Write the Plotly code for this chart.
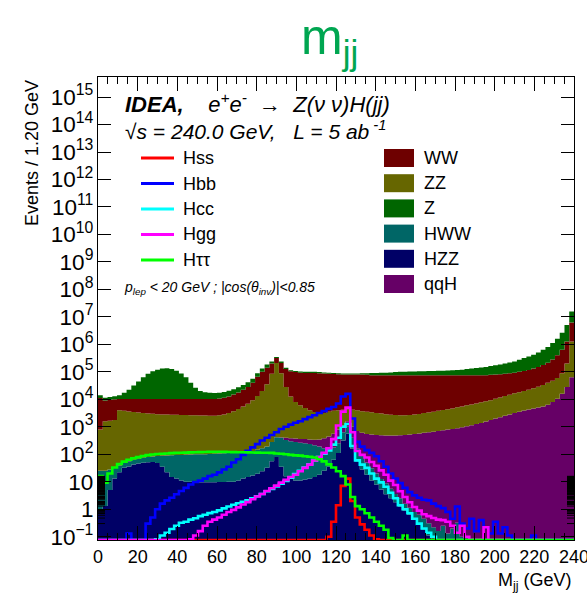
import numpy as np
import plotly.graph_objects as go

# ---------------------------------------------------------------------------
# Binning: 100 bins of 2.4 GeV from 0 to 240 GeV
# ---------------------------------------------------------------------------
BIN_W = 2.4
edges = np.round(np.arange(101) * BIN_W, 1)

# Stacked backgrounds / signals (events per bin), listed bottom -> top of stack
hzz = [1.0, 1.3, 5.0, 13, 22, 32, 36, 42, 46, 49,
       51, 52, 48, 35, 22, 15, 13, 11, 10, 10,
       9.8, 9.5, 9.5, 9.5, 9.5, 9.8, 9.8, 10, 10, 11,
       13, 15, 17, 19.5, 24, 32, 56, 79, 35, 16,
       13, 11, 11, 12, 13, 15, 18, 25, 35, 63,
       112, 316, 562, 158, 56, 28, 18, 11, 7.9, 5.2,
       3.5, 2.5, 1.8, 1.26, 0.89, 0.63, 0.45, 0.28, 0.18, 0.11,
       0, 0, 0, 0, 0, 0, 0, 0, 0, 0,
       0, 0, 0, 0, 0, 0, 0, 0, 0, 0,
       0, 0, 0, 0, 0, 0, 0, 0, 0, 0]

hww = [24, 24, 23, 21, 17, 16, 20, 21, 23, 25,
       28, 31, 39, 54, 69, 78, 81, 84, 87, 88,
       90, 90, 90, 93, 95, 97, 100, 102, 105, 106,
       108, 108, 115, 128, 142, 159, 226, 338, 363, 315,
       283, 271, 252, 240, 221, 199, 173, 141, 123, 115,
       139, 315, 438, 240, 102, 61, 32, 20, 12, 7.3,
       5.4, 3.1, 1.8, 1.25, 0.69, 0.49, 0.35, 0.35, 0.27, 0.2,
       0.22, 0.16, 0.25, 0.13, 0.2, 0.32, 0.1, 0, 0, 0,
       0, 0, 0, 0, 0, 0, 0, 0, 0, 0,
       0, 0, 0, 0, 0, 0, 0, 0, 0, 0]

qqh = [0, 0, 0, 0, 0, 0, 0, 0, 0, 0,
       0, 0, 0, 0, 0, 0, 0, 0, 0, 0,
       0, 0, 0, 0, 0, 0, 0, 0, 0, 0,
       0, 0, 0, 0, 0, 0, 0, 0, 19, 67,
       85, 90, 100, 104, 112, 125, 156, 214, 288, 385,
       543, 491, 585, 602, 549, 514, 499, 493, 481, 477,
       470, 473, 475, 487, 500, 524, 549, 575, 602, 631,
       660, 708, 741, 794, 832, 891, 955, 1047, 1148, 1259,
       1380, 1549, 1778, 1995, 2239, 2512, 2818, 3162, 3548, 3890,
       4266, 4677, 5012, 5495, 6310, 7943, 10470, 15850, 28180, 63100]

zz = [770, 1560, 1630, 1740, 3940, 3750, 3570, 3400, 3240, 3090,
      2940, 2870, 2800, 2730, 2730, 2660, 2660, 2600, 2590, 2530,
      2530, 2470, 2470, 2410, 2410, 2520, 2710, 3050, 3600, 4350,
      5370, 6800, 9200, 13030, 19800, 35290, 84830, 208500, 88710, 27780,
      12210, 7570, 5660, 4430, 3630, 3130, 2815, 2782, 3100, 3240,
      3190, 3050, 2680, 3170, 3270, 3110, 3000, 2863, 2661, 2530,
      2405, 2275, 2213, 2140, 2129, 2167, 2268, 2376, 2559, 2680,
      2887, 3094, 3333, 3571, 3845, 4238, 4540, 4979, 5309, 5820,
      6382, 6962, 7555, 8475, 9511, 10670, 11970, 13440, 14650, 16060,
      18120, 20440, 23830, 27620, 33500, 39920, 49790, 73280, 171300, 1196000]

ww = [10400, 7500, 7900, 8200, 6250, 6430, 6600, 6760, 6920, 7070,
      7210, 7280, 7350, 7410, 7410, 7480, 7480, 7540, 7540, 7600,
      7600, 7660, 7660, 7720, 7720, 8090, 8660, 9430, 11100, 13310,
      16900, 21260, 30480, 52890, 80050, 105800, 114400, 110000, 119800, 97720,
      92110, 89780, 87300, 86410, 87220, 87730, 85970, 83940, 81560, 79380,
      77300, 75260, 75160, 75260, 75450, 75720, 74070, 72470, 72700, 72840,
      72980, 73110, 73170, 73230, 73230, 73170, 73040, 72910, 72700, 72550,
      72310, 72060, 71790, 71500, 71180, 70730, 70370, 69830, 69400, 68780,
      68100, 67350, 68290, 68960, 69530, 71930, 74340, 76730, 81800, 87250,
      95110, 106700, 122600, 144700, 174000, 233900, 337800, 541900, 1059500, 5051000]

zjets = [2900, 2400, 2500, 2900, 3900, 7150, 12200, 21400, 34400, 52900,
         74900, 94500, 110000, 121600, 124700, 115700, 99400, 76900, 52900, 29600,
         16100, 9720, 7970, 7150, 6750, 6660, 7140, 7830, 8650, 9760,
         10720, 13510, 16420, 23060, 31800, 44900, 40400, 27800, 31000, 15400,
         10100, 9480, 8970, 8800, 8800, 8800, 8590, 8400, 8220, 8020,
         7850, 7670, 7670, 7670, 7670, 9700, 11510, 15340, 15340, 17470,
         17470, 19640, 21860, 24140, 24140, 26440, 26440, 28840, 28840, 31340,
         31340, 33740, 33740, 36340, 38940, 41640, 44340, 50040, 55940, 62140,
         68640, 75540, 84580, 94370, 104900, 114400, 129700, 146600, 175400, 209000,
         245600, 285100, 349800, 453200, 580500, 840200, 1187000, 1999000, 3753000, 9540000]

# Higgs signal channels drawn as unstacked histograms
hss = [0] * 48 + [0.1, 0.35, 1.4, 7.1, 13, 2.0, 0.5, 0.28, 0.18, 0.11, 0.08] + [0] * 41

hbb = [0, 0, 0, 0, 0, 0, 0.13, 0, 0, 0,
       0.3, 0.5, 1.0, 1.6, 2.1, 2.6, 3.5, 4.6, 6.0, 7.9,
       9.8, 11, 13, 16, 18, 22, 28, 35, 50, 66,
       95, 135, 178, 234, 316, 398, 501, 631, 832, 1000,
       1200, 1410, 1585, 1905, 2240, 2630, 3160, 3720, 4470, 5250,
       7080, 12600, 15800, 2000, 282, 190, 141, 112, 85, 56,
       35, 20, 13, 8.9, 6.0, 4.2, 3.2, 2.6, 2.2, 2.1,
       1.6, 1.3, 1.1, 0.8, 0.45, 1.25, 0.3, 0.2, 0.45, 0.16,
       0.4, 0.22, 0.13, 0.35, 0.13, 0.22, 0.11, 0, 0, 0,
       0, 0.11, 0, 0, 0, 0, 0, 0, 0, 0]

hcc = [0, 0, 0, 0, 0, 0, 0, 0, 0, 0,
       0, 0, 0.08, 0.11, 0.14, 0.19, 0.25, 0.32, 0.35, 0.42,
       0.47, 0.56, 0.63, 0.72, 0.79, 0.91, 1.07, 1.26, 1.45, 1.66,
       1.86, 2.1, 2.5, 2.95, 3.6, 4.5, 5.5, 6.8, 8.5, 10.7,
       14, 19, 25, 33, 43, 59, 79, 105, 138, 224,
       398, 1000, 1260, 200, 60, 42, 32, 20, 13, 9.5,
       6.6, 4.0, 2.5, 1.4, 1.0, 0.71, 0.45, 0.3, 0.2, 0.14,
       0.1, 0, 0, 0, 0, 0, 0, 0, 0, 0,
       0, 0, 0, 0, 0, 0, 0, 0, 0, 0,
       0, 0, 0, 0, 0, 0, 0, 0, 0, 0]

hgg = [0, 0, 0, 0, 0, 0, 0, 0, 0, 0,
       0, 0, 0, 0, 0, 0, 0, 0, 0, 0.08,
       0.11, 0.16, 0.25, 0.35, 0.42, 0.5, 0.63, 0.79, 0.95, 1.17,
       1.48, 1.82, 2.3, 2.9, 3.6, 4.6, 5.8, 7.2, 9.3, 11.7,
       14.8, 18, 24, 32, 42, 59, 79, 112, 166, 355,
       1120, 3550, 5000, 631, 132, 95, 76, 52, 38, 26,
       18, 11, 7.6, 4.5, 2.8, 1.8, 1.2, 0.89, 0.66, 0.56,
       0.48, 0.42, 0.4, 0.35, 0.25, 0.14, 0.25, 0.1, 0, 0,
       0, 0.22, 0, 0, 0, 0, 0, 0, 0, 0,
       0, 0, 0, 0, 0, 0, 0, 0, 0, 0]

htautau = [16, 9.3, 20, 33, 44, 54, 63, 72, 79, 87,
           93, 98, 102, 105, 107, 110, 112, 113, 115, 117,
           118, 120, 121, 122, 122, 123, 122, 121, 120, 119,
           118, 117, 116, 115, 114, 113, 112, 107, 105, 100,
           95, 91, 89, 85, 81, 76, 66, 55, 43, 33,
           24, 16, 7.9, 2.8, 1.3, 1.0, 0.71, 0.5, 0.35, 0.25,
           0.18, 0.09, 0, 0, 0.11, 0, 0, 0, 0, 0,
           0, 0, 0, 0, 0, 0, 0, 0, 0, 0,
           0, 0, 0, 0, 0, 0, 0, 0, 0, 0,
           0, 0, 0, 0, 0, 0, 0, 0, 0, 0]

stack = [("HZZ", hzz, "#000066"),
         ("HWW", hww, "#006666"),
         ("qqH", qqh, "#660066"),
         ("ZZ", zz, "#666600"),
         ("WW", ww, "#6e0000"),
         ("Z", zjets, "#006600")]

signals = [("Hss", hss, "#ff0000"),
           ("Hbb", hbb, "#0000ff"),
           ("Hcc", hcc, "#00ffff"),
           ("Hgg", hgg, "#ff00ff"),
           ("H\u03c4\u03c4", htautau, "#00ff00")]

Y_RANGE = [-1.12, 15.73]
FILL_FLOOR = 1e-3                 # below the visible range, used as fill base
LINE_FLOOR = 10 ** Y_RANGE[0]     # empty bins drawn on the lower frame edge

FONT = "Liberation Sans, Arial, Helvetica, sans-serif"

fig = go.Figure()


def step_y(vals):
    v = list(vals)
    return v + [v[-1]]


# fill base
fig.add_trace(go.Scatter(x=edges, y=[FILL_FLOOR] * len(edges), mode="lines",
                         line=dict(width=0, shape="hv"), hoverinfo="skip"))

cum = np.zeros(len(edges) - 1)
for name, vals, col in stack:
    cum = cum + np.asarray(vals, dtype=float)
    y = np.maximum(cum, FILL_FLOOR)
    fig.add_trace(go.Scatter(x=edges, y=step_y(y), mode="lines", name=name,
                             line=dict(width=0, shape="hv", color=col),
                             fill="tonexty", fillcolor=col))

for name, vals, col in signals:
    v = np.asarray(vals, dtype=float)
    y = np.where(v > 0, v, LINE_FLOOR)
    fig.add_trace(go.Scatter(x=edges, y=step_y(y), mode="lines", name=name,
                             line=dict(width=2.6, shape="hv", color=col)))

# ---------------------------------------------------------------------------
# Layout
# ---------------------------------------------------------------------------
W, H = 587, 601
PL, PR, PT, PB = 98, 574, 77, 540


def fx(px):
    return (px - PL) / (PR - PL)


def fy(py):
    return (PB - py) / (PB - PT)


fig.update_layout(
    width=W, height=H,
    margin=dict(l=PL, r=W - PR, t=PT, b=H - PB, pad=0, autoexpand=False),
    paper_bgcolor="white", plot_bgcolor="white",
    showlegend=False,
    font=dict(family=FONT, color="black"),
    xaxis=dict(range=[0, 240], tickmode="linear", tick0=0, dtick=20, tickangle=0,
               automargin=False,
               ticks="inside", ticklen=14, tickwidth=1, tickcolor="black",
               showline=True, linecolor="black", linewidth=1, mirror="allticks",
               showgrid=False, zeroline=False, ticklabeloverflow="allow",
               tickfont=dict(size=18, family=FONT),
               minor=dict(dtick=5, tick0=0, ticks="inside", ticklen=7, tickcolor="black",
                          showgrid=False)),
    yaxis=dict(type="log", range=Y_RANGE, dtick=1, exponentformat="power",
               automargin=False,
               ticks="inside", ticklen=13, tickwidth=1, tickcolor="black",
               showline=True, linecolor="black", linewidth=1, mirror="allticks",
               showgrid=False, zeroline=False,
               tickfont=dict(size=18, family=FONT)),
)

ann = []
shapes = []

# log-axis minor ticks (2..9 x 10^n) on both vertical frame edges
tick_w = 7 / (PR - PL)
for d in range(-2, 16):
    for k in range(2, 10):
        ly = np.log10(k) + d
        if Y_RANGE[0] < ly < Y_RANGE[1]:
            for x0, x1 in ((0, tick_w), (1 - tick_w, 1)):
                shapes.append(dict(type="line", xref="paper", yref="y",
                                   x0=x0, x1=x1, y0=ly, y1=ly,
                                   line=dict(color="black", width=1)))

# title
ann.append(dict(text="m<sub>jj</sub>", x=fx(329), y=fy(40), xref="paper", yref="paper",
                xanchor="center", yanchor="middle", showarrow=False,
                font=dict(size=50, color="#00a651", family=FONT)))

# axis titles
ann.append(dict(text="Events / 1.20 GeV", x=fx(32), y=fy(153), xref="paper", yref="paper",
                textangle=-90, xanchor="center", yanchor="middle", showarrow=False,
                font=dict(size=18, family=FONT)))
ann.append(dict(text="M<sub>jj</sub> (GeV)", x=fx(574), y=fy(581), xref="paper", yref="paper",
                xanchor="right", yanchor="middle", showarrow=False,
                font=dict(size=18, family=FONT)))

# process / selection labels
ann.append(dict(text="<i><b>IDEA,</b>\u00a0\u00a0\u00a0\u00a0e<sup>+</sup>e<sup>-</sup>\u00a0\u00a0\u2192\u00a0\u00a0Z(\u03bd\u00a0\u03bd)H(jj)</i>",
                x=fx(123), y=fy(103), xref="paper", yref="paper",
                xanchor="left", yanchor="middle", showarrow=False,
                font=dict(size=22, family=FONT)))
ann.append(dict(text="<i>\u221as = 240.0 GeV,\u00a0\u00a0\u00a0L = 5 ab<sup> -1</sup></i>",
                x=fx(123), y=fy(130), xref="paper", yref="paper",
                xanchor="left", yanchor="middle", showarrow=False,
                font=dict(size=21, family=FONT)))
ann.append(dict(text="<i>p<sub>lep</sub> &lt; 20 GeV ; |cos(\u03b8<sub>inv</sub>)|&lt;0.85</i>",
                x=fx(122), y=fy(288), xref="paper", yref="paper",
                xanchor="left", yanchor="middle", showarrow=False,
                font=dict(size=14, family=FONT)))

# legend: signal lines
for i, (name, _, col) in enumerate(signals):
    py = 158 + 25.5 * i
    shapes.append(dict(type="line", xref="paper", yref="paper",
                       x0=fx(141), x1=fx(174), y0=fy(py), y1=fy(py),
                       line=dict(color=col, width=3)))
    ann.append(dict(text=name, x=fx(181), y=fy(py), xref="paper", yref="paper",
                    xanchor="left", yanchor="middle", showarrow=False,
                    font=dict(size=18, family=FONT)))

# legend: stacked processes
legend_boxes = ["WW", "ZZ", "Z", "HWW", "HZZ", "qqH"]
colors = {n: c for n, _, c in stack}
for i, name in enumerate(legend_boxes):
    py = 158 + 25.2 * i
    shapes.append(dict(type="rect", xref="paper", yref="paper",
                       x0=fx(384), x1=fx(414), y0=fy(py - 9), y1=fy(py + 9),
                       fillcolor=colors[name], line=dict(width=0)))
    ann.append(dict(text=name, x=fx(422), y=fy(py), xref="paper", yref="paper",
                    xanchor="left", yanchor="middle", showarrow=False,
                    font=dict(size=18, family=FONT)))

fig.update_layout(annotations=ann, shapes=shapes)

fig.write_html("out.html")
